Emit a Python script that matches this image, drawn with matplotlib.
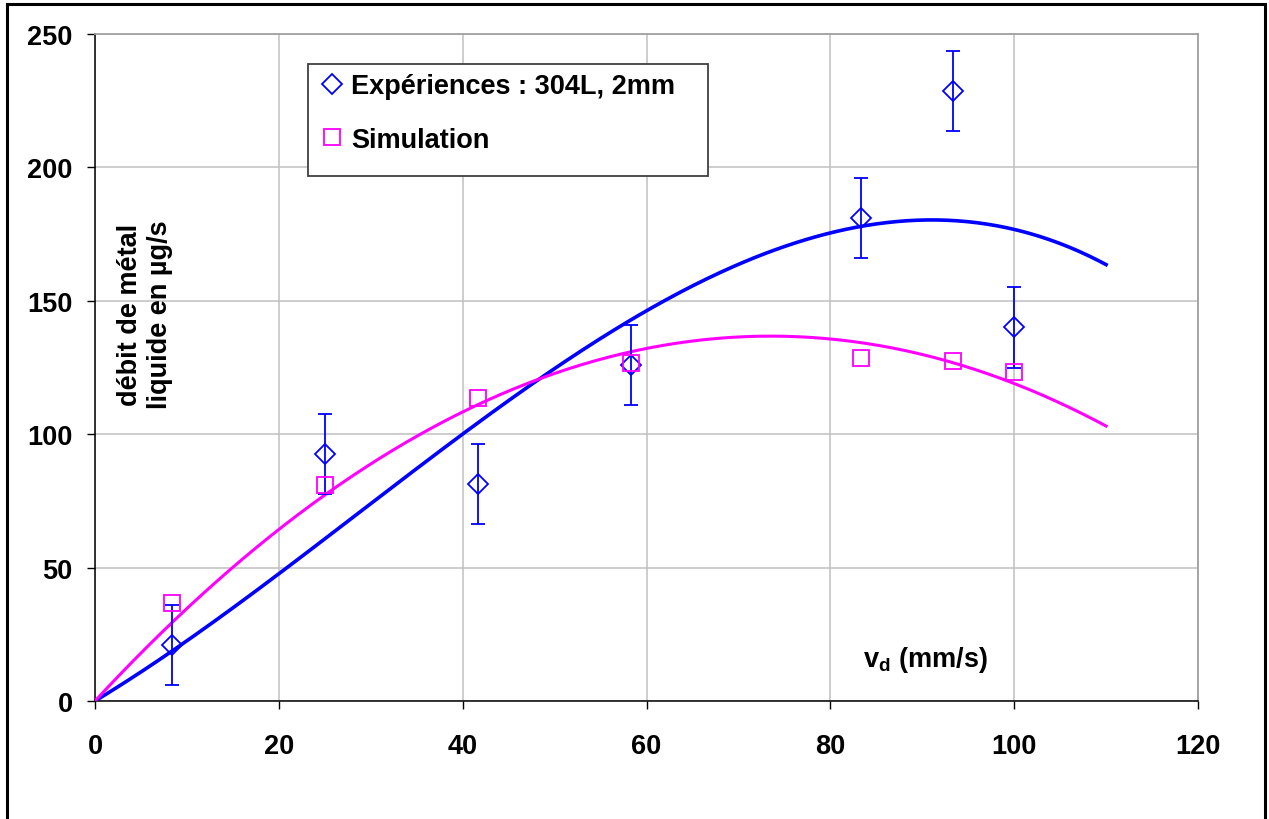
import numpy as np
import matplotlib
matplotlib.use("Agg")
import matplotlib.pyplot as plt
from matplotlib.patches import Rectangle

plt.rcParams["font.family"] = ["Liberation Sans", "DejaVu Sans"]
plt.rcParams["font.weight"] = "bold"
plt.rcParams["mathtext.fontset"] = "custom"
plt.rcParams["mathtext.rm"] = "Liberation Sans:bold"
plt.rcParams["mathtext.bf"] = "Liberation Sans:bold"
plt.rcParams["mathtext.it"] = "Liberation Sans:bold"

# vitesse de déplacement (mm/s)
vd = [8.33, 25.0, 41.67, 58.33, 83.33, 93.33, 100.0]
# débit mesuré (µg/s) et incertitude
exp_debit = [21.0, 92.7, 81.5, 126.1, 181.0, 228.6, 140.0]
exp_err = [15, 15, 15, 15, 15, 15, 15]
# débit simulé (µg/s)
sim_debit = [36.8, 81.1, 113.4, 126.5, 128.4, 127.3, 123.5]

x_ticks = [0, 20, 40, 60, 80, 100, 120]
y_ticks = [0, 50, 100, 150, 200, 250]

BLUE = "#0000FF"
MAGENTA = "#FF00FF"
FS = 19.5


def fit_origin(x, y, deg):
    # courbe de tendance polynomiale, ordonnée à l'origine = 0 (comme Excel)
    x = np.asarray(x, float)
    A = np.column_stack([x ** k for k in range(1, deg + 1)])
    coef, *_ = np.linalg.lstsq(A, np.asarray(y, float), rcond=None)
    return lambda t: sum(c * t ** (k + 1) for k, c in enumerate(coef))


fig = plt.figure(figsize=(12.69, 8.2), dpi=100)
ax = fig.add_axes([95 / 1269, 1 - 702 / 820, 1103 / 1269, 667 / 820])

# trendlines
xx = np.linspace(0, 110, 300)
f_exp = fit_origin(vd, exp_debit, 3)
f_sim = fit_origin(vd, sim_debit, 2)
ax.plot(xx, f_exp(xx), color=BLUE, lw=2.6, zorder=3)
ax.plot(xx, f_sim(xx), color=MAGENTA, lw=2.2, zorder=3)

# error bars + markers
ax.errorbar(vd, exp_debit, yerr=exp_err, fmt="none", ecolor=BLUE,
            elinewidth=1.3, capsize=5, capthick=1.3, zorder=4)
h_exp, = ax.plot(vd, exp_debit, ls="none", marker="D", ms=10.5, mfc="none",
                 mec=BLUE, mew=1.3, zorder=5)
h_sim, = ax.plot(vd, sim_debit, ls="none", marker="s", ms=11, mfc="none",
                 mec=MAGENTA, mew=1.3, zorder=5)

ax.set_xlim(0, 120)
ax.set_ylim(0, 250)
ax.set_xticks(x_ticks)
ax.set_yticks(y_ticks)
ax.grid(True, color="#C0C0C0", lw=1.1)
ax.set_axisbelow(True)

for s in ("left", "bottom"):
    ax.spines[s].set_color("black")
    ax.spines[s].set_linewidth(1.1)
for s in ("top", "right"):
    ax.spines[s].set_color("#A0A0A0")
    ax.spines[s].set_linewidth(1.3)

ax.tick_params(axis="both", direction="out", length=6, width=1.0,
               labelsize=FS, color="black")
ax.tick_params(axis="y", pad=10)
ax.tick_params(axis="x", pad=17)
for lab in ax.get_xticklabels() + ax.get_yticklabels():
    lab.set_fontweight("bold")

# titres des axes dans la zone de tracé
ax.text(0.045, 0.58, "débit de métal\nliquide en µg/s", transform=ax.transAxes,
        rotation=90, ha="center", va="center", fontsize=FS, fontweight="bold",
        linespacing=1.2)
ax.text(0.753, 0.063, r"v$_{\mathrm{d}}$ (mm/s)", transform=ax.transAxes,
        ha="center", va="center", fontsize=FS, fontweight="bold")

# légende encadrée
ax.add_patch(Rectangle((0.193, 0.787), 0.363, 0.168, transform=ax.transAxes,
                       fc="white", ec="#404040", lw=1.3, zorder=6))
leg = ax.legend([h_exp, h_sim], ["Expériences : 304L, 2mm", "Simulation"],
                loc="upper left", bbox_to_anchor=(0.2, 0.953), frameon=False,
                fontsize=FS, handlelength=0.6, handletextpad=0.4,
                labelspacing=1.0, borderpad=0.3, borderaxespad=0.0)
leg.set_zorder(7)
for t in leg.get_texts():
    t.set_fontweight("bold")

# cadre extérieur
fig.add_artist(Rectangle((7 / 1269, -0.05), (1265 - 7) / 1269, 1.05 - 5 / 820,
                         transform=fig.transFigure, fill=False, ec="black", lw=2.2))

fig.savefig("out.png", dpi=100)
